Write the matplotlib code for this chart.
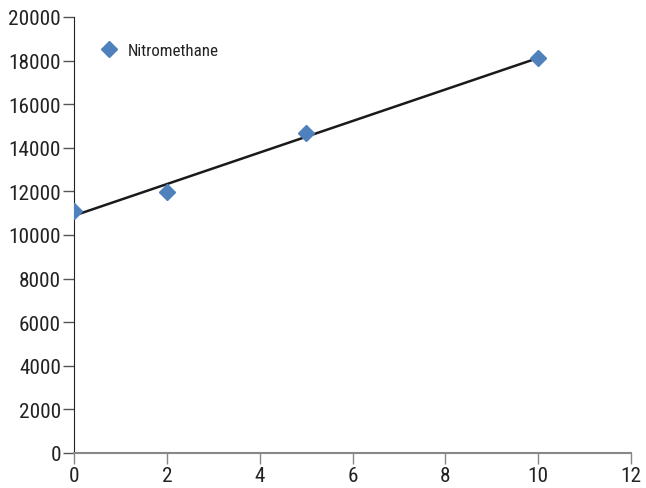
import numpy as np
import matplotlib.pyplot as plt
from matplotlib import font_manager

conc = [0, 2, 5, 10]
signal = [11100, 11950, 14700, 18100]
series_name = 'Nitromethane'
xticks = [0, 2, 4, 6, 8, 10, 12]
yticks = [0, 2000, 4000, 6000, 8000, 10000, 12000, 14000, 16000, 18000, 20000]

# condensed face if we have one (original looks like Univers Condensed)
names = {f.name for f in font_manager.fontManager.ttflist}
fam = [n for n in ['Roboto Condensed', 'Archivo Narrow', 'Barlow Semi Condensed', 'Asap Condensed']
       if n in names][:1] + ['DejaVu Sans']
plt.rcParams['font.family'] = fam

fig = plt.figure(figsize=(6.46, 4.89), dpi=100)
ax = fig.add_axes([0.1146, 0.0716, 0.8622, 0.8916])

ax.plot(conc, signal, 'D', color='#4F81BD', markersize=8, label=series_name, zorder=3)

# linear trendline
k, b = np.polyfit(conc, signal, 1)
xs = np.array([min(conc), max(conc)])
ax.plot(xs, k * xs + b, color='#1a1a1a', linewidth=1.8, zorder=2)

ax.set_xlim(0, 12)
ax.set_ylim(0, 20000)
ax.set_xticks(xticks)
ax.set_yticks(yticks)
ax.tick_params(axis='both', labelsize=15.3, length=8, width=1, color='#555555',
               labelcolor='#222222', direction='out', pad=1.5)
ax.tick_params(axis='x', color='#888888')

ax.spines['top'].set_visible(False)
ax.spines['right'].set_visible(False)
ax.spines['left'].set_color('#222222')
ax.spines['bottom'].set_color('#888888')
ax.spines['bottom'].set_linewidth(1.5)

ax.legend(loc='upper left', bbox_to_anchor=(0.018, 0.975), frameon=False, fontsize=12.2,
          handletextpad=0.6, handlelength=1.1, labelcolor='#222222')

fig.savefig('out.png', dpi=100)
